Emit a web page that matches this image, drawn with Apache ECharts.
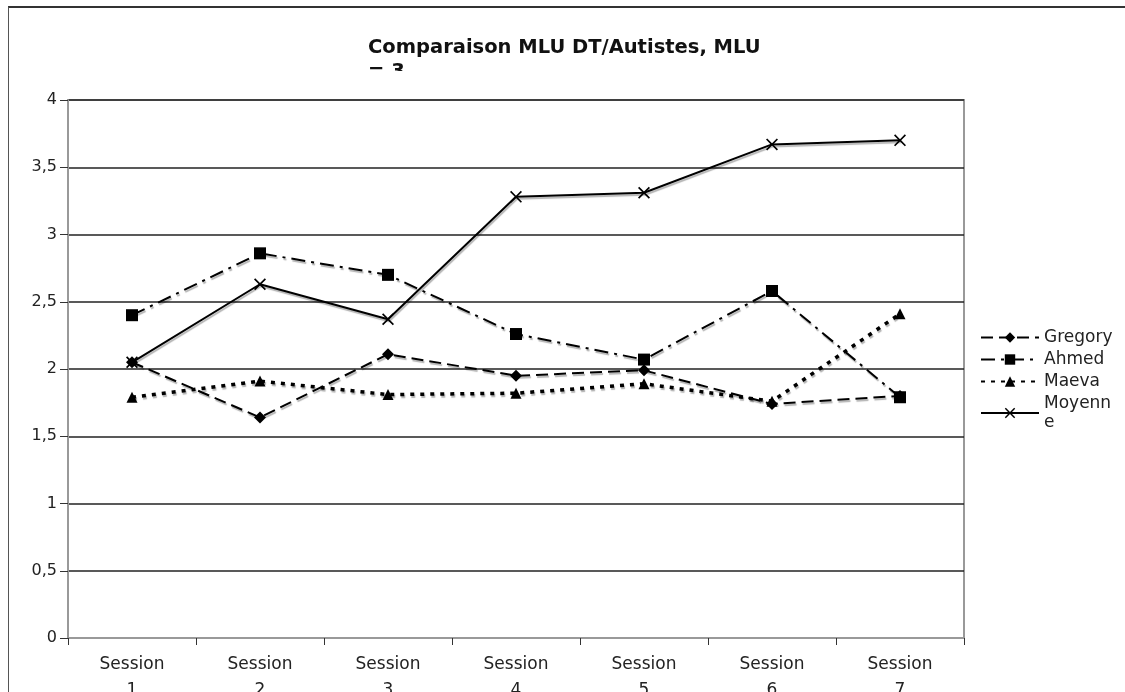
<!DOCTYPE html>
<html>
<head>
<meta charset="utf-8">
<script src="https://cdn.jsdelivr.net/npm/echarts@6/dist/echarts.min.js"></script>
<style>
    html, body { margin: 0; padding: 0; background: #fff; }
    #main { position: absolute; left: 0; top: 0; width: 1125px; height: 692px; }
    #frame {
        position: absolute; left: 8px; top: 6px; width: 1117px; height: 686px;
        border-top: 2px solid #333; border-left: 1px solid #555;
        pointer-events: none; box-sizing: border-box;
    }
</style>
</head>
<body>
<div id="main"></div>
<div id="frame"></div>
<script>
// valeurs
const sessions = ['Session\n1', 'Session\n2', 'Session\n3', 'Session\n4', 'Session\n5', 'Session\n6', 'Session\n7'];
const gregory = [2.05, 1.64, 2.11, 1.95, 1.99, 1.74, 1.80];
const ahmed = [2.40, 2.86, 2.70, 2.26, 2.07, 2.58, 1.79];
const maeva = [1.79, 1.91, 1.81, 1.82, 1.89, 1.76, 2.41];
const moyenne = [2.05, 2.63, 2.37, 3.28, 3.31, 3.67, 3.70];

const font = 'DejaVu Sans, Verdana, sans-serif';
const crossPath = 'path://M0,1L1,0L5,4L9,0L10,1L6,5L10,9L9,10L5,6L1,10L0,9L4,5Z';

function lineSerie(name, data, symbol, size, type, width) {
    return {
        name: name,
        type: 'line',
        data: data,
        symbol: symbol,
        symbolSize: size,
        showAllSymbol: true,
        itemStyle: { color: '#000' },
        lineStyle: {
            color: '#000',
            width: width,
            type: type,
            shadowColor: 'rgba(0,0,0,0.3)', // ombre grise sous les traits
            shadowOffsetX: 1,
            shadowOffsetY: 2,
            shadowBlur: 1
        },
        emphasis: { disabled: true }
    };
}

const chart = echarts.init(document.getElementById('main'));
chart.setOption({
    animation: false,
    title: {
        text: 'Comparaison MLU DT/Autistes, MLU\n= 3',
        left: 363,
        top: 31,
        textStyle: { fontFamily: font, fontSize: 19.5, fontWeight: 'bold', color: '#111', lineHeight: 24 }
    },
    legend: {
        orient: 'vertical',
        left: 975,
        top: 323,
        itemWidth: 58,
        itemHeight: 13,
        itemGap: 3,
        textStyle: { fontFamily: font, fontSize: 17, color: '#222', lineHeight: 19 },
        formatter: function (name) {
            return name === 'Moyenne' ? 'Moyenn\ne' : name;
        },
        data: ['Gregory', 'Ahmed', 'Maeva', 'Moyenne']
    },
    grid: {
        left: 68,
        right: 161,
        top: 100,
        bottom: 54,
        outerBoundsMode: 'none',
        containLabel: false,
        show: true,
        borderColor: '#999',
        borderWidth: 2
    },
    xAxis: {
        type: 'category',
        data: sessions,
        boundaryGap: true,
        axisLine: { lineStyle: { color: '#999', width: 2 } },
        axisTick: { show: true, length: 7, lineStyle: { color: '#333' } },
        axisLabel: { fontFamily: font, fontSize: 17, color: '#222', margin: 14, lineHeight: 26 }
    },
    yAxis: {
        type: 'value',
        min: 0,
        max: 4,
        interval: 0.5,
        axisLine: { show: true, lineStyle: { color: '#999', width: 2 } },
        axisTick: { show: true, length: 8, lineStyle: { color: '#333' } },
        axisLabel: {
            fontFamily: font, fontSize: 16, color: '#222', margin: 11,
            formatter: function (v) { return String(v).replace('.', ','); }
        },
        splitLine: { lineStyle: { color: '#222', width: 1.5 } }
    },
    graphic: [
        // le titre et la légende sont coupés dans l'original
        { type: 'rect', z: 100, shape: { x: 355, y: 71, width: 200, height: 27 }, style: { fill: '#fff' } },
        { type: 'rect', z: 100, shape: { x: 1036, y: 428, width: 60, height: 20 }, style: { fill: '#fff' } }
    ],
    series: [
        lineSerie('Gregory', gregory, 'diamond', 12, [12, 6], 2),
        lineSerie('Ahmed', ahmed, 'rect', 12, [14, 6, 3, 6], 2),
        lineSerie('Maeva', maeva, 'triangle', 11, [4, 6], 3.5),
        lineSerie('Moyenne', moyenne, crossPath, 12, 'solid', 2)
    ]
});
</script>
</body>
</html>
